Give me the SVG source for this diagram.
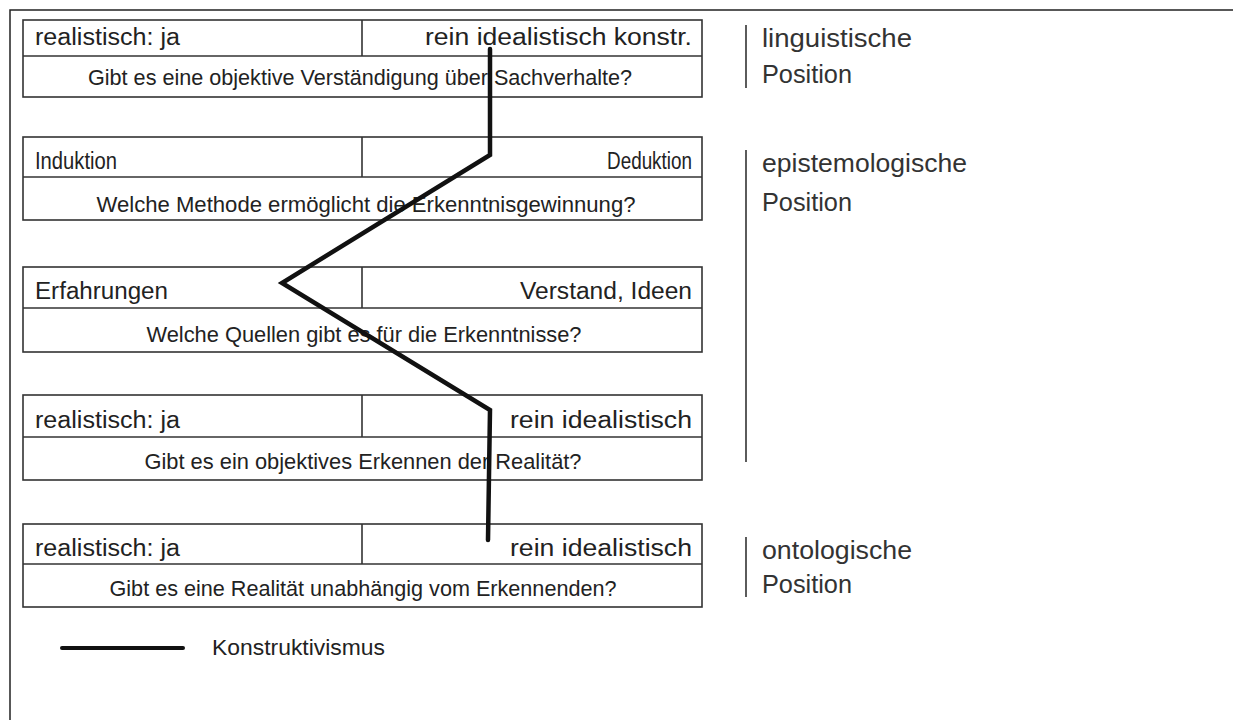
<svg xmlns="http://www.w3.org/2000/svg" width="1233" height="720" viewBox="0 0 1233 720">
<style>
.frame{fill:none;stroke:#222;stroke-width:1.5}
.box{fill:#fff;stroke:#333;stroke-width:1.6}
.div{stroke:#333;stroke-width:1.6}
.t{font-family:"Liberation Sans",Arial,sans-serif;font-size:23px;fill:#222}
.q{font-family:"Liberation Sans",Arial,sans-serif;font-size:22px;fill:#222}
.lab{font-family:"Liberation Sans",Arial,sans-serif;font-size:25px;fill:#333}
.brk{stroke:#333;stroke-width:1.6}
.zig{fill:none;stroke:#111;stroke-width:4.5;stroke-linecap:round;stroke-linejoin:miter}
</style>
<rect width="1233" height="720" fill="#fff"/>
<path class="frame" d="M10,720 V10 H1233"/>

<g id="box1">
<rect class="box" x="23" y="20" width="679" height="77"/>
<line class="div" x1="23" y1="56" x2="702" y2="56"/>
<line class="div" x1="362" y1="20" x2="362" y2="56"/>
<text class="t" x="35" y="45" textLength="145" lengthAdjust="spacingAndGlyphs">realistisch: ja</text>
<text class="t" x="692" y="45" text-anchor="end" textLength="267" lengthAdjust="spacingAndGlyphs">rein idealistisch konstr.</text>
<text class="q" x="360" y="85" text-anchor="middle" textLength="544" lengthAdjust="spacingAndGlyphs">Gibt es eine objektive Verständigung über Sachverhalte?</text>
</g>

<g id="box2">
<rect class="box" x="23" y="137" width="679" height="83"/>
<line class="div" x1="23" y1="177" x2="702" y2="177"/>
<line class="div" x1="362" y1="137" x2="362" y2="177"/>
<text class="t" x="35" y="169" textLength="82" lengthAdjust="spacingAndGlyphs">Induktion</text>
<text class="t" x="692" y="169" text-anchor="end" textLength="85" lengthAdjust="spacingAndGlyphs">Deduktion</text>
<text class="q" x="366" y="212" text-anchor="middle" textLength="539" lengthAdjust="spacingAndGlyphs">Welche Methode ermöglicht die Erkenntnisgewinnung?</text>
</g>

<g id="box3">
<rect class="box" x="23" y="267" width="679" height="85"/>
<line class="div" x1="23" y1="308" x2="702" y2="308"/>
<line class="div" x1="362" y1="267" x2="362" y2="308"/>
<text class="t" x="35" y="299" textLength="133" lengthAdjust="spacingAndGlyphs">Erfahrungen</text>
<text class="t" x="692" y="299" text-anchor="end" textLength="172" lengthAdjust="spacingAndGlyphs">Verstand, Ideen</text>
<text class="q" x="364" y="342" text-anchor="middle" textLength="435" lengthAdjust="spacingAndGlyphs">Welche Quellen gibt es für die Erkenntnisse?</text>
</g>

<g id="box4">
<rect class="box" x="23" y="395" width="679" height="85"/>
<line class="div" x1="23" y1="437" x2="702" y2="437"/>
<line class="div" x1="362" y1="395" x2="362" y2="437"/>
<text class="t" x="35" y="428" textLength="145" lengthAdjust="spacingAndGlyphs">realistisch: ja</text>
<text class="t" x="692" y="428" text-anchor="end" textLength="182" lengthAdjust="spacingAndGlyphs">rein idealistisch</text>
<text class="q" x="363" y="469" text-anchor="middle" textLength="437" lengthAdjust="spacingAndGlyphs">Gibt es ein objektives Erkennen der Realität?</text>
</g>

<g id="box5">
<rect class="box" x="23" y="524" width="679" height="83"/>
<line class="div" x1="23" y1="564" x2="702" y2="564"/>
<line class="div" x1="362" y1="524" x2="362" y2="564"/>
<text class="t" x="35" y="556" textLength="145" lengthAdjust="spacingAndGlyphs">realistisch: ja</text>
<text class="t" x="692" y="556" text-anchor="end" textLength="182" lengthAdjust="spacingAndGlyphs">rein idealistisch</text>
<text class="q" x="363" y="596" text-anchor="middle" textLength="507" lengthAdjust="spacingAndGlyphs">Gibt es eine Realität unabhängig vom Erkennenden?</text>
</g>

<g id="connectors">
<polyline class="zig" points="490,49 490,155 282,283 490,410 488,540"/>
</g>

<g id="pos-linguistisch">
<line class="brk" x1="746" y1="25" x2="746" y2="88"/>
<text class="lab" x="762" y="47" textLength="150" lengthAdjust="spacingAndGlyphs">linguistische</text>
<text class="lab" x="762" y="83" textLength="90" lengthAdjust="spacingAndGlyphs">Position</text>
</g>

<g id="pos-epistemologisch">
<line class="brk" x1="746" y1="150" x2="746" y2="462"/>
<text class="lab" x="762" y="172" textLength="205" lengthAdjust="spacingAndGlyphs">epistemologische</text>
<text class="lab" x="762" y="211" textLength="90" lengthAdjust="spacingAndGlyphs">Position</text>
</g>

<g id="pos-ontologisch">
<line class="brk" x1="746" y1="537" x2="746" y2="597"/>
<text class="lab" x="762" y="559" textLength="150" lengthAdjust="spacingAndGlyphs">ontologische</text>
<text class="lab" x="762" y="593" textLength="90" lengthAdjust="spacingAndGlyphs">Position</text>
</g>

<g id="legend">
<line x1="62" y1="648" x2="183" y2="648" stroke="#111" stroke-width="4" stroke-linecap="round"/>
<text class="q" x="212" y="655" textLength="173" lengthAdjust="spacingAndGlyphs">Konstruktivismus</text>
</g>
</svg>
